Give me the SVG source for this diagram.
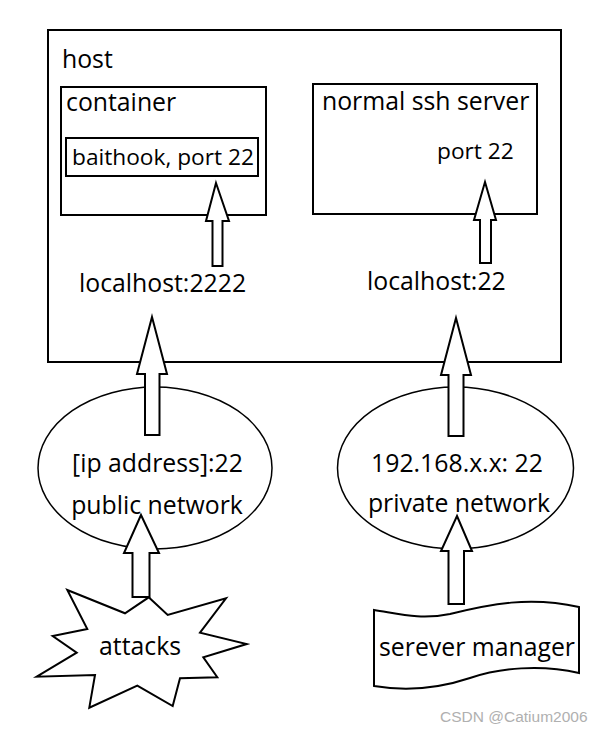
<svg xmlns="http://www.w3.org/2000/svg" width="602" height="732" viewBox="0 0 602 732">
<style>
.b{fill:#fff;stroke:#000;stroke-width:2}
.e{fill:#fff;stroke:#000;stroke-width:1.5}
.a{fill:#fff;stroke:#000;stroke-width:2;stroke-linejoin:miter}
text{font-family:"Open Sans","Noto Sans",sans-serif;fill:#000}
.t{font-size:24.8px}
.s{font-size:22.7px}
.w{font-family:"Liberation Sans",Arial,sans-serif;font-size:15.5px;fill:#b0b0b0}
</style>
<rect width="602" height="732" fill="#fff"/>
<g id="host">
<rect class="b" x="48" y="30" width="513" height="332"/>
<text class="t" x="62" y="68">host</text>
</g>
<g id="container">
<rect class="b" x="61" y="87" width="205" height="128"/>
<text class="t" x="66" y="111">container</text>
</g>
<g id="baithook">
<rect class="b" x="66" y="138" width="192" height="38"/>
<text class="s" x="72" y="165">baithook, port 22</text>
</g>
<g id="ssh">
<rect class="b" x="313" y="84" width="224" height="130"/>
<text class="t" x="322" y="110">normal ssh server</text>
<text class="s" x="437" y="159">port 22</text>
</g>
<g id="localhost2222"><text class="t" x="79" y="292">localhost:2222</text></g>
<g id="localhost22"><text class="t" x="367" y="290">localhost:22</text></g>
<g id="public">
<ellipse class="e" cx="155" cy="468" rx="117" ry="81"/>
<text class="t" x="157.5" y="472" text-anchor="middle">[ip address]:22</text>
<text class="t" x="157" y="514" text-anchor="middle">public network</text>
</g>
<g id="private">
<ellipse class="e" cx="455.5" cy="468" rx="118" ry="81"/>
<text class="t" x="457" y="472" text-anchor="middle">192.168.x.x: 22</text>
<text class="t" x="459" y="512" text-anchor="middle">private network</text>
</g>
<g id="attacks">
<polygon class="a" points="148.7,597.3 167.7,615 226,598.3 200,632.7 246.7,644 203.3,657.3 217.3,677.3 180,678.3 172.7,706 137.3,685.7 89.3,707.7 95,675 36.7,676.7 76.7,652.7 52.7,636 87.3,629 67.3,590 125,613.3"/>
<text class="t" x="140" y="655" text-anchor="middle">attacks</text>
</g>
<g id="manager">
<path class="a" d="M374,610 C400,614 420,620 450,614 C490,604 530,596 579,607 L579,673 C540,664 500,668 470,678 C440,688 410,692 374,686 Z"/>
<text class="t" x="477" y="656" text-anchor="middle">serever manager</text>
</g>
<g id="connectors">
<polygon class="a" points="216,183 229,221 222.5,221 222.5,266 212.5,266 212.5,221 206,221"/>
<polygon class="a" points="485,182 496,220 491,220 491,263 480,263 480,220 474,220"/>
<polygon class="a" points="152,317 167,374 159.5,374 159.5,435 145,435 145,374 137,374"/>
<polygon class="a" points="456,318 471,375 463.5,375 463.5,436 448.5,436 448.5,375 441,375"/>
<polygon class="a" points="141,515 159,553 149.5,553 149.5,597 132.5,597 132.5,553 124,553"/>
<polygon class="a" points="457,516 472,551 464,551 464,604 448.5,604 448.5,551 441,551"/>
</g>
<text class="w" x="440" y="722">CSDN @Catium2006</text>
</svg>
